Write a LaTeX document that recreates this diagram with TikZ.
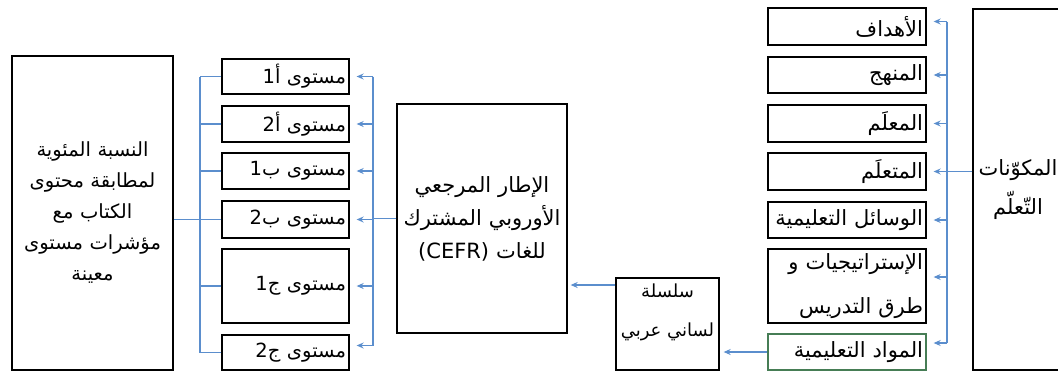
\documentclass[tikz,border=0pt]{standalone}
\usepackage{fontspec}
\TeXXeTstate=1
\newfontfamily\arabicfont[Script=Arabic]{DejaVu Sans}
\usetikzlibrary{arrows.meta}
\newcommand{\ar}[1]{\beginR #1\endR}
\definecolor{linkblue}{RGB}{91,142,205}
\definecolor{boxgreen}{RGB}{70,125,85}
\begin{document}
\begin{tikzpicture}[x=1pt,y=-1pt,
  fnt/.style 2 args={font=\arabicfont\fontsize{#1}{#2}\selectfont},
  box/.style={draw, line width=1.3pt, inner sep=0pt, fnt={19.5}{24}},
  lvl/.style={box, inner xsep=3pt, text width=121pt, align=right},
  comp/.style={box, inner xsep=3pt, text width=152pt, align=right, fnt={21}{24}},
  cbox/.style={box, align=center},
  txt/.style={inner sep=0pt, align=center},
  link/.style={draw=linkblue, line width=1.2pt},
  arr/.style={link, -{Stealth[length=7pt,width=6pt]}, shorten >=7pt}]
\useasboundingbox (0,0) rectangle (1058,372);
% left box
\node[cbox, text width=161pt, minimum height=314pt, fnt={19.5}{31}] (L) at (92.5,213)
  {\ar{النسبة المئوية}\\\ar{لمطابقة محتوى}\\\ar{الكتاب مع}\\\ar{مؤشرات مستوى}\\\ar{معينة}};
% levels
\node[lvl, minimum height=35pt] (A1) at (285.5,76.5) {\ar{مستوى أ1}};
\node[lvl, minimum height=36pt] (A2) at (285.5,124) {\ar{مستوى أ2}};
\node[lvl, minimum height=36pt] (B1) at (285.5,171) {\ar{مستوى ب1}};
\node[lvl, minimum height=37pt] (B2) at (285.5,219.5) {\ar{مستوى ب2}};
\node[lvl, minimum height=74pt] (C1) at (285.5,286) {\ar{مستوى ج1}};
\node[lvl, minimum height=35pt] (C2) at (285.5,352.5) {\ar{مستوى ج2}};
% CEFR
\node[cbox, text width=170pt, minimum height=229pt, fnt={21}{33}] (CEFR) at (482,218.5)
  {\ar{الإطار المرجعي}\\\ar{الأوروبي المشترك}\\\ar{للغات \beginL(CEFR)\endL}};
% silsila
\node[box, minimum width=103pt, minimum height=92pt] (S) at (667.5,324) {};
\node[txt, fnt={18}{39}] (St) at (667.5,312.5) {\ar{سلسلة}\\\ar{لساني عربي}};
% components
\node[comp, minimum height=37pt] (M1) at (847,26.5) {\ar{الأهداف}};
\node[comp, minimum height=36pt] (M2) at (847,75) {\ar{المنهج}};
\node[comp, minimum height=37pt] (M3) at (847,123.5) {\ar{المعلَم}};
\node[comp, minimum height=37pt] (M4) at (847,171.5) {\ar{المتعلَم}};
\node[comp, minimum height=36pt] (M5) at (847,220) {\ar{الوسائل التعليمية}};
\node[comp, minimum height=74pt, fnt={21}{44}] (M6) at (847,286) {\ar{الإستراتيجيات و}\\\ar{طرق التدريس}};
\node[comp, minimum height=36pt, draw=boxgreen] (M7) at (847,352) {\ar{المواد التعليمية}};
% right box
\node[cbox, text width=90pt, minimum height=361pt, fnt={21}{39}] (R) at (1018,189.5) {\ar{المكوّنات}\\\ar{التّعلّم}};
% bus coordinates
\coordinate (bl) at (200,0);
\coordinate (br) at (373,0);
\coordinate (bc) at (947,0);
% left bus
\foreach \X in {A1,A2,B1,B2,C1,C2} \draw[link] (\X.west) -- (\X.west -| bl);
\draw[link] (A1.west -| bl) -- (C2.west -| bl);
\draw[link] (L.east |- B2.west) -- (B2.west -| bl);
% CEFR bus
\coordinate (c2a) at ([yshift=7pt]C2.east);
\foreach \X in {A1,A2,B1,B2,C1} \draw[arr] (\X.east -| br) -- (\X.east);
\draw[arr] (c2a -| br) -- (c2a);
\draw[link] (A1.east -| br) -- (c2a -| br);
\draw[link] (CEFR.west) -- (CEFR.west -| br);
% silsila -> CEFR
\coordinate (sa) at ([yshift=39pt]S.west);
\draw[arr, shorten >=3pt] (sa) -- (sa -| CEFR.east);
% green -> silsila
\draw[arr, shorten >=4pt] (M7.west) -- (M7.west -| S.east);
% components bus
\coordinate (m1a) at ([yshift=5pt]M1.east);
\coordinate (m6a) at ([yshift=9pt]M6.east);
\coordinate (m7a) at ([yshift=9pt]M7.east);
\draw[arr] (m1a -| bc) -- (m1a);
\foreach \X in {M2,M3,M4,M5} \draw[arr] (\X.east -| bc) -- (\X.east);
\draw[arr] (m6a -| bc) -- (m6a);
\draw[arr] (m7a -| bc) -- (m7a);
\draw[link] (m1a -| bc) -- (m7a -| bc);
\draw[link] (R.west |- M4.east) -- (M4.east -| bc);
\end{tikzpicture}
\end{document}
